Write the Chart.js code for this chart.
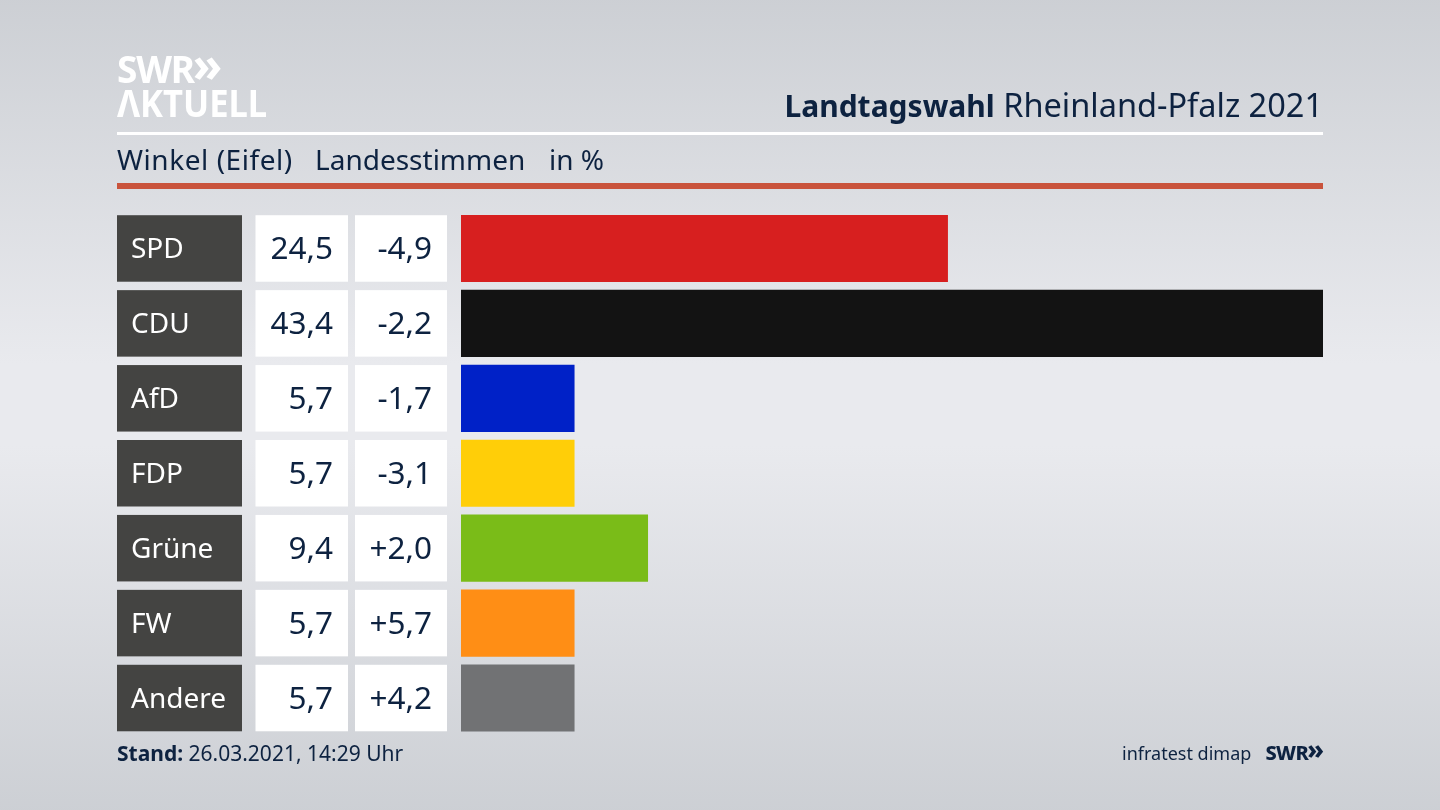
<!DOCTYPE html>
<html lang="de">
<head>
    <meta charset="UTF-8">
    <title>Landtagswahl Rheinland-Pfalz 2021</title>
    <script src="https://cdn.jsdelivr.net/npm/chart.js"></script>
    <style>
        html, body { margin: 0; padding: 0; }
        body {
            width: 1440px; height: 810px; overflow: hidden; position: relative;
            font-family: "Noto Sans", sans-serif; color: #0d2240;
            background:
                linear-gradient(180deg, rgba(203,206,211,0.95) 0%, rgba(232,233,238,0) 45%, rgba(232,233,238,0) 55%, rgba(203,206,211,0.95) 100%),
                #e9eaee;
        }
        canvas { position: absolute; left: 0; top: 0; }
        .txt { position: absolute; white-space: nowrap; line-height: 1; }
        .rule { position: absolute; left: 117px; width: 1206px; }
        .chev { font-size: 1.3em; line-height: 0; letter-spacing: -1px; position: relative; top: -0.02em; margin-left: -1px; }
    </style>
</head>
<body>
    <canvas id="resultChart" width="1440" height="810"></canvas>

    <div class="txt" style="left:117px;top:50px;font-size:37px;font-weight:700;color:#fff;letter-spacing:-1.2px">SWR<span class="chev">»</span></div>
    <div class="txt" style="left:117px;top:83px;font-size:38px;font-weight:700;color:#fff;transform:scaleX(0.91);transform-origin:left">ΛKTUELL</div>
    <div class="txt" style="right:117px;top:89px;font-size:32.5px"><b style="font-size:30px">Landtagswahl</b> Rheinland-Pfalz 2021</div>
    <div class="rule" style="top:132px;height:3px;background:#fff"></div>
    <div class="txt" style="left:117px;top:145px;font-size:28px;letter-spacing:0.55px">Winkel (Eifel)</div>
    <div class="txt" style="left:315px;top:145px;font-size:28px">Landesstimmen</div>
    <div class="txt" style="left:549px;top:145px;font-size:28px">in %</div>
    <div class="rule" style="top:183px;height:6px;background:#c9533c"></div>
    <div class="txt" style="left:117px;top:743px;font-size:21px"><b>Stand:</b> 26.03.2021, 14:29 Uhr</div>
    <div class="txt" style="left:1122px;top:744px;font-size:18px">infratest dimap</div>
    <div class="txt" style="right:117px;top:743px;font-size:20px;font-weight:800;letter-spacing:-0.6px">SWR<span class="chev">»</span></div>

    <script>
        const parties = ['SPD', 'CDU', 'AfD', 'FDP', 'Grüne', 'FW', 'Andere'];
        const shares = [24.5, 43.4, 5.7, 5.7, 9.4, 5.7, 5.7];
        const changes = [-4.9, -2.2, -1.7, -3.1, 2.0, 5.7, 4.2];
        const partyColors = ['#d71f1f', '#131313', '#0021c7', '#ffce08', '#7abc18', '#ff8e15', '#717274'];

        const barHeight = 66.5;
        const textColor = '#0d2240';

        function formatShare(value) {
            return value.toFixed(1).replace('.', ',');
        }

        function formatChange(value) {
            return (value > 0 ? '+' : '') + formatShare(value);
        }

        // white cells and the dark name cell sit behind the axis labels
        const tableCells = {
            id: 'tableCells',
            beforeDraw(chart) {
                const ctx = chart.ctx;
                const yScale = chart.scales.y;
                parties.forEach((party, i) => {
                    const top = yScale.getPixelForValue(i) - barHeight / 2;
                    ctx.fillStyle = '#444442';
                    ctx.fillRect(117, top, 125, barHeight);
                    ctx.fillStyle = '#ffffff';
                    ctx.fillRect(255.5, top, 92.5, barHeight);
                    ctx.fillRect(355, top, 92, barHeight);
                });
            },
            afterDraw(chart) {
                const ctx = chart.ctx;
                const yScale = chart.scales.y;
                ctx.save();
                ctx.font = '31.5px "Noto Sans"';
                ctx.fillStyle = textColor;
                ctx.textAlign = 'right';
                ctx.textBaseline = 'middle';
                parties.forEach((party, i) => {
                    const y = yScale.getPixelForValue(i) + 1.5;
                    ctx.fillText(formatShare(shares[i]), 333, y);
                    ctx.fillText(formatChange(changes[i]), 432, y);
                });
                ctx.restore();
            }
        };

        new Chart(document.getElementById('resultChart'), {
            type: 'bar',
            data: {
                labels: parties,
                datasets: [{
                    data: shares,
                    backgroundColor: partyColors,
                    barThickness: barHeight,
                    borderWidth: 0
                }]
            },
            options: {
                indexAxis: 'y',
                responsive: false,
                animation: false,
                layout: { padding: { left: 131, right: 117, top: 211, bottom: 74.5 } },
                plugins: { legend: { display: false }, tooltip: { enabled: false } },
                scales: {
                    x: { display: false, min: 0, max: 43.4 },
                    y: {
                        afterFit(scale) { scale.width = 330; },
                        grid: { display: false },
                        border: { display: false },
                        ticks: {
                            crossAlign: 'far',
                            labelOffset: 2,
                            color: '#ffffff',
                            font: { family: 'Noto Sans', size: 28 }
                        }
                    }
                }
            },
            plugins: [tableCells]
        });
    </script>
</body>
</html>
